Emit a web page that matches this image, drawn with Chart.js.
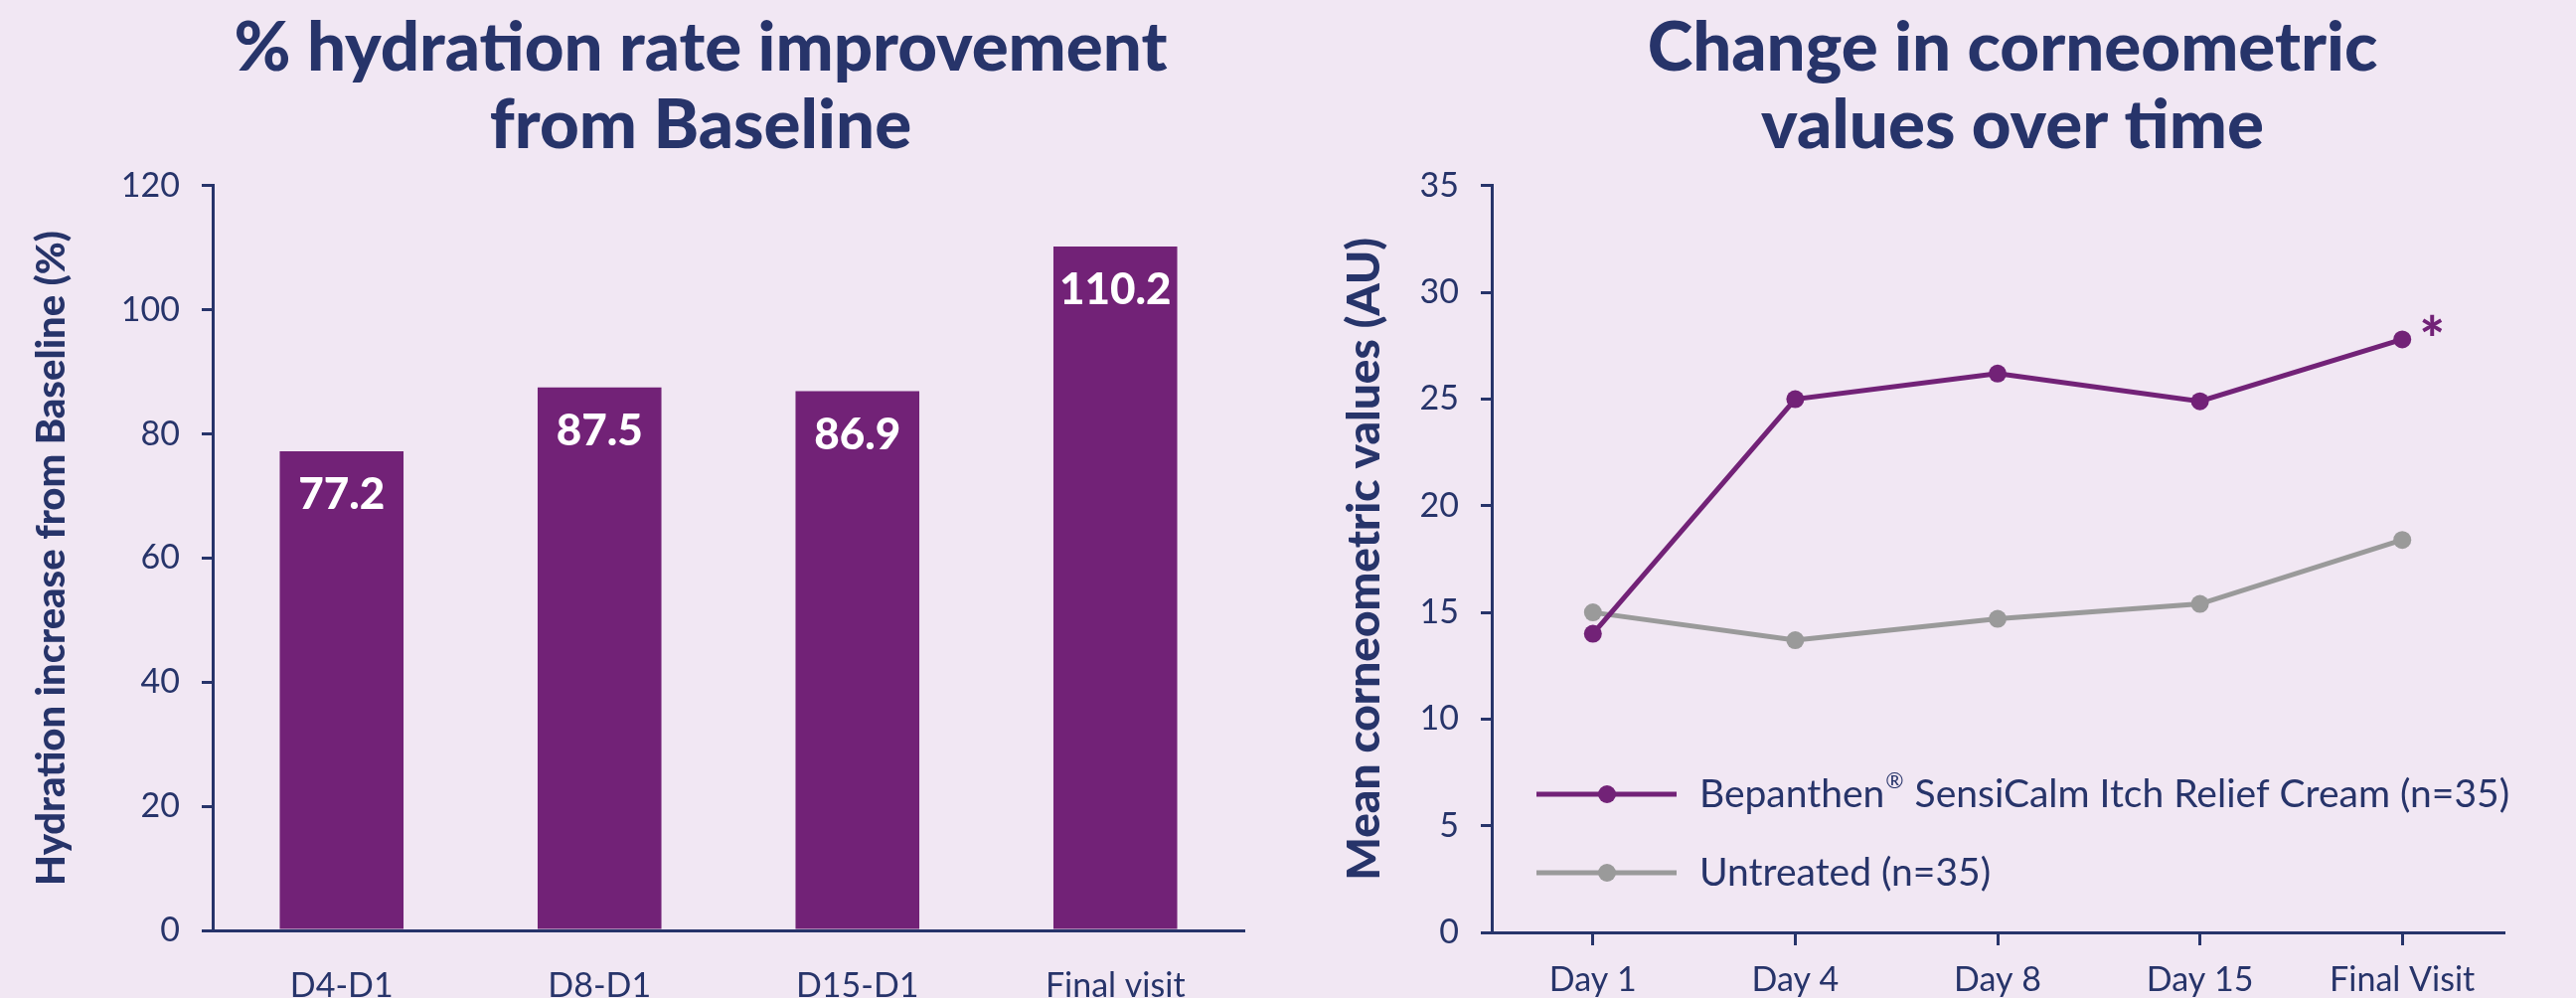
<!DOCTYPE html>
<html>
<head>
<meta charset="utf-8">
<script src="https://cdn.jsdelivr.net/npm/chart.js@4"></script>
<style>
  html, body { margin: 0; padding: 0; width: 2592px; height: 1004px; overflow: hidden; background: #f1e7f3; }
  canvas { position: absolute; top: 0; }
  #hydration { left: 0; }
  #corneo { left: 1330px; }
</style>
</head>
<body>
<canvas id="hydration" width="1410" height="1040"></canvas>
<canvas id="corneo" width="1390" height="1040"></canvas>
<script>
const barLabels = ['D4-D1', 'D8-D1', 'D15-D1', 'Final visit']
const hydrationValues = [77.2, 87.5, 86.9, 110.2]

const dayLabels = ['Day 1', 'Day 4', 'Day 8', 'Day 15', 'Final Visit']
const bepanthenValues = [14.0, 25.0, 26.2, 24.9, 27.8]
const untreatedValues = [15.0, 13.7, 14.7, 15.4, 18.4]
const seriesNames = ['Bepanthen® SensiCalm Itch Relief Cream (n=35)', 'Untreated (n=35)']

const navy = '#27346a'
const purple = '#722277'
const grey = '#9a9a9a'
const FONT = 'Lato, "Open Sans", sans-serif'

Chart.defaults.font.family = FONT
Chart.defaults.color = navy

// white value labels inside the bars
const barValues = {
    id: 'barValues',
    afterDatasetsDraw(chart) {
        const ctx = chart.ctx
        const meta = chart.getDatasetMeta(0)
        ctx.save()
        ctx.fillStyle = '#ffffff'
        ctx.font = '900 44px ' + FONT
        ctx.textAlign = 'center'
        ctx.textBaseline = 'middle'
        meta.data.forEach((bar, i) => {
            ctx.fillText(hydrationValues[i].toFixed(1), bar.x, bar.y + 44)
        })
        ctx.restore()
    }
}

// legend drawn inside the plot area, plus the asterisk on the last point
const lineExtras = {
    id: 'lineExtras',
    afterDatasetsDraw(chart) {
        const ctx = chart.ctx
        const area = chart.chartArea
        ctx.save()
        const rows = [area.bottom - 139, area.bottom - 60]
        chart.data.datasets.forEach((ds, i) => {
            const y = rows[i]
            ctx.strokeStyle = ds.borderColor
            ctx.lineWidth = 5
            ctx.beginPath()
            ctx.moveTo(area.left + 45, y)
            ctx.lineTo(area.left + 186, y)
            ctx.stroke()
            ctx.fillStyle = ds.borderColor
            ctx.beginPath()
            ctx.arc(area.left + 116, y, 9, 0, Math.PI * 2)
            ctx.fill()

            ctx.fillStyle = navy
            ctx.textBaseline = 'middle'
            ctx.textAlign = 'left'
            let x = area.left + 209
            const parts = ds.label.split('®')
            ctx.font = '39px ' + FONT
            ctx.fillText(parts[0], x, y)
            x += ctx.measureText(parts[0]).width
            if (parts.length > 1) {
                ctx.font = '22px ' + FONT
                ctx.fillText('®', x + 1, y - 13)
                x += ctx.measureText('®').width + 2
                ctx.font = '39px ' + FONT
                ctx.fillText(parts[1], x, y)
            }
        })
        const last = chart.getDatasetMeta(0).data[bepanthenValues.length - 1]
        ctx.fillStyle = purple
        ctx.font = '900 60px ' + FONT
        ctx.textAlign = 'center'
        ctx.textBaseline = 'alphabetic'
        ctx.fillText('*', last.x + 30, last.y + 22)
        ctx.restore()
    }
}

function titleOpts(lines) {
    return {
        display: true,
        text: lines,
        color: navy,
        font: { size: 69, weight: 900, lineHeight: 1.13 },
        padding: { top: 10, bottom: 21 }
    }
}

function spacer(width) {
    return {
        position: 'right',
        grid: { display: false },
        border: { display: false },
        ticks: { display: false },
        afterFit(scale) { scale.width = width }
    }
}

new Chart(document.getElementById('hydration'), {
    type: 'bar',
    data: {
        labels: barLabels,
        datasets: [{
            data: hydrationValues,
            backgroundColor: purple,
            categoryPercentage: 1,
            barPercentage: 0.48
        }]
    },
    options: {
        responsive: false,
        animation: false,
        layout: { padding: 0 },
        plugins: {
            legend: { display: false },
            tooltip: { enabled: false },
            title: titleOpts(['% hydration rate improvement', 'from Baseline'])
        },
        scales: {
            x: {
                grid: { display: false },
                border: { display: true, color: navy, width: 3 },
                ticks: { color: navy, padding: 28, font: { size: 34 } },
                afterFit(scale) { scale.height = 104 }
            },
            y: {
                min: 0,
                max: 120,
                grid: { drawOnChartArea: false, tickLength: 11, color: navy, lineWidth: 3 },
                border: { display: true, color: navy, width: 3 },
                ticks: { stepSize: 20, color: navy, padding: 22, font: { size: 34 } },
                title: {
                    display: true,
                    text: 'Hydration increase from Baseline (%)',
                    color: navy,
                    font: { size: 40, weight: 900 },
                    padding: { top: 28, bottom: 0 }
                },
                afterFit(scale) { scale.width = 214 }
            },
            pad: spacer(158)
        }
    },
    plugins: [barValues]
})

new Chart(document.getElementById('corneo'), {
    type: 'line',
    data: {
        labels: dayLabels,
        datasets: [{
            label: seriesNames[0],
            data: bepanthenValues,
            borderColor: purple,
            backgroundColor: purple,
            borderWidth: 5,
            pointRadius: 9,
            pointBorderWidth: 0
        }, {
            label: seriesNames[1],
            data: untreatedValues,
            borderColor: grey,
            backgroundColor: grey,
            borderWidth: 5,
            pointRadius: 9,
            pointBorderWidth: 0
        }]
    },
    options: {
        responsive: false,
        animation: false,
        layout: { padding: 0 },
        plugins: {
            legend: { display: false },
            tooltip: { enabled: false },
            title: titleOpts(['Change in corneometric', 'values over time'])
        },
        scales: {
            x: {
                offset: true,
                grid: { drawOnChartArea: false, offset: false, tickLength: 13, color: navy, lineWidth: 3 },
                border: { display: true, color: navy, width: 3 },
                ticks: { color: navy, padding: 15, font: { size: 34 } },
                afterFit(scale) { scale.height = 102 }
            },
            y: {
                min: 0,
                max: 35,
                grid: { drawOnChartArea: false, tickLength: 11, color: navy, lineWidth: 3 },
                border: { display: true, color: navy, width: 3 },
                ticks: { stepSize: 5, color: navy, padding: 22, font: { size: 34 } },
                title: {
                    display: true,
                    text: 'Mean corneometric values (AU)',
                    color: navy,
                    font: { size: 46, weight: 900 },
                    padding: { top: 16, bottom: 0 }
                },
                afterFit(scale) { scale.width = 171 }
            },
            pad: spacer(201)
        }
    },
    plugins: [lineExtras]
})
</script>
</body>
</html>
